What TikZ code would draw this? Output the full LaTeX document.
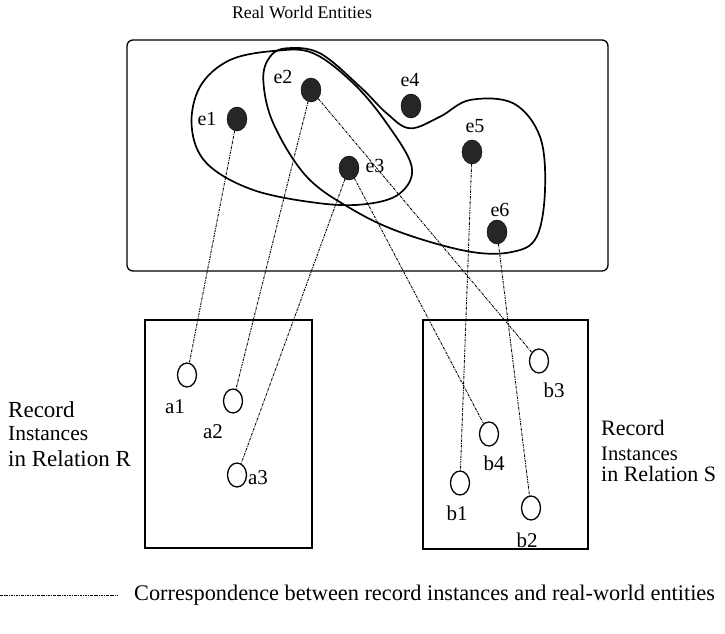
\documentclass[tikz,border=0pt]{standalone}
\usepackage{fontspec}
\setmainfont{Liberation Serif}
\usetikzlibrary{shapes.geometric}
\begin{document}
\begin{tikzpicture}[x=1pt,y=-1pt,
  ent/.style={ellipse,fill=black!85,draw=black,minimum width=20pt,minimum height=24pt,inner sep=0pt},
  rec/.style={ellipse,draw=black,line width=1.3pt,minimum width=19pt,minimum height=24pt,inner sep=0pt},
  elab/.style={font=\fontsize{20}{22}\selectfont,inner sep=0pt},
  rlab/.style={font=\fontsize{21}{23}\selectfont,inner sep=0pt},
  side/.style={font=\fontsize{23}{25}\selectfont,inner sep=0pt,anchor=west},
  sidesmall/.style={font=\fontsize{21.5}{23}\selectfont,inner sep=0pt,anchor=west},
  sideR/.style={font=\fontsize{22}{24}\selectfont,inner sep=0pt,anchor=west},
  sidesmallR/.style={font=\fontsize{20.6}{22}\selectfont,inner sep=0pt,anchor=west},
  blob/.style={line width=1.7pt},
  frame/.style={line width=1.3pt},
  corr/.style={line width=0.9pt,dash pattern=on 2.5pt off 1pt on 0.8pt off 1pt}]
\useasboundingbox (0,0) rectangle (725,634);

% title
\node[font=\fontsize{17.8}{20}\selectfont] (title) at (302,12) {Real World Entities};

% frames
\draw[frame,rounded corners=6pt] (127,40) rectangle (608,271);
\draw[frame] (145,320) rectangle (312,548);
\draw[frame] (423,320) rectangle (588,549);

% blobs
\draw[blob] plot[smooth cycle,tension=0.6] coordinates {
  (276.7,50.7) (313.3,53.3) (353.3,83.3) (386.7,123.3) (411.7,166.7)
  (400,193.3) (366.7,204) (320,203.3) (253.3,190) (206.7,163.3)
  (191.7,126.7) (200,86.7) (230,60)};
\draw[blob] plot[smooth cycle,tension=0.6] coordinates {
  (286.7,48.3) (320,53.3) (360,86.7) (386.7,113.3) (410,128.3)
  (440,116.7) (470,100) (513.3,103.3) (540,136.7) (545,190)
  (536.7,236.7) (513.3,251.7) (470,251.7) (403.3,233.3) (353.3,210)
  (306.7,176.7) (273.3,123.3) (263.3,80) (270,56.7)};

% entities
\node[ent] (e1) at (237,119) {};
\node[ent] (e2) at (311,90) {};
\node[ent] (e3) at (349,168) {};
\node[ent] (e4) at (411,106) {};
\node[ent] (e5) at (472,152) {};
\node[ent] (e6) at (497,232) {};
\node[elab] (le1) at (207,119) {e1};
\node[elab] (le2) at (283,77) {e2};
\node[elab] (le3) at (375,166) {e3};
\node[elab] (le4) at (410,80) {e4};
\node[elab] (le5) at (475,126) {e5};
\node[elab] (le6) at (500,210) {e6};

% records
\node[rec] (a1) at (187,375) {};
\node[rec] (a2) at (233,401) {};
\node[rec] (a3) at (237,475) {};
\node[rec] (b1) at (460,483) {};
\node[rec] (b2) at (531,508) {};
\node[rec] (b3) at (539,361) {};
\node[rec] (b4) at (489,434) {};
\node[rlab] (la1) at (175,407) {a1};
\node[rlab] (la2) at (213,432) {a2};
\node[rlab] (la3) at (258,478) {a3};
\node[rlab] (lb1) at (457,513) {b1};
\node[rlab] (lb2) at (527,540) {b2};
\node[rlab] (lb3) at (554,390) {b3};
\node[rlab] (lb4) at (494,463) {b4};

% side labels
\node[side] (rR1) at (8,410) {Record};
\node[sidesmall] (rR2) at (8,434) {Instances};
\node[side] (rR3) at (8,459) {in Relation R};
\node[sideR] (rS1) at (601,428) {Record};
\node[sidesmallR] (rS2) at (601,454) {Instances};
\node[sideR] (rS3) at (601,474) {in Relation S};

% correspondences
\draw[corr] (e1) -- (a1);
\draw[corr] (e2) -- (a2);
\draw[corr] (e2) -- (b3);
\draw[corr] (e3) -- (a3);
\draw[corr] (e3) -- (b4);
\draw[corr] (e5) -- (b1);
\draw[corr] (e6) -- (b2);

% legend
\coordinate (lg0) at (0,595);
\coordinate (lg1) at (118,595);
\draw[corr] (lg0) -- (lg1);
\node[font=\fontsize{22.3}{24}\selectfont,anchor=west,inner sep=0pt] (legend) at (134,595) {Correspondence between record instances and real-world entities};
\end{tikzpicture}
\end{document}
